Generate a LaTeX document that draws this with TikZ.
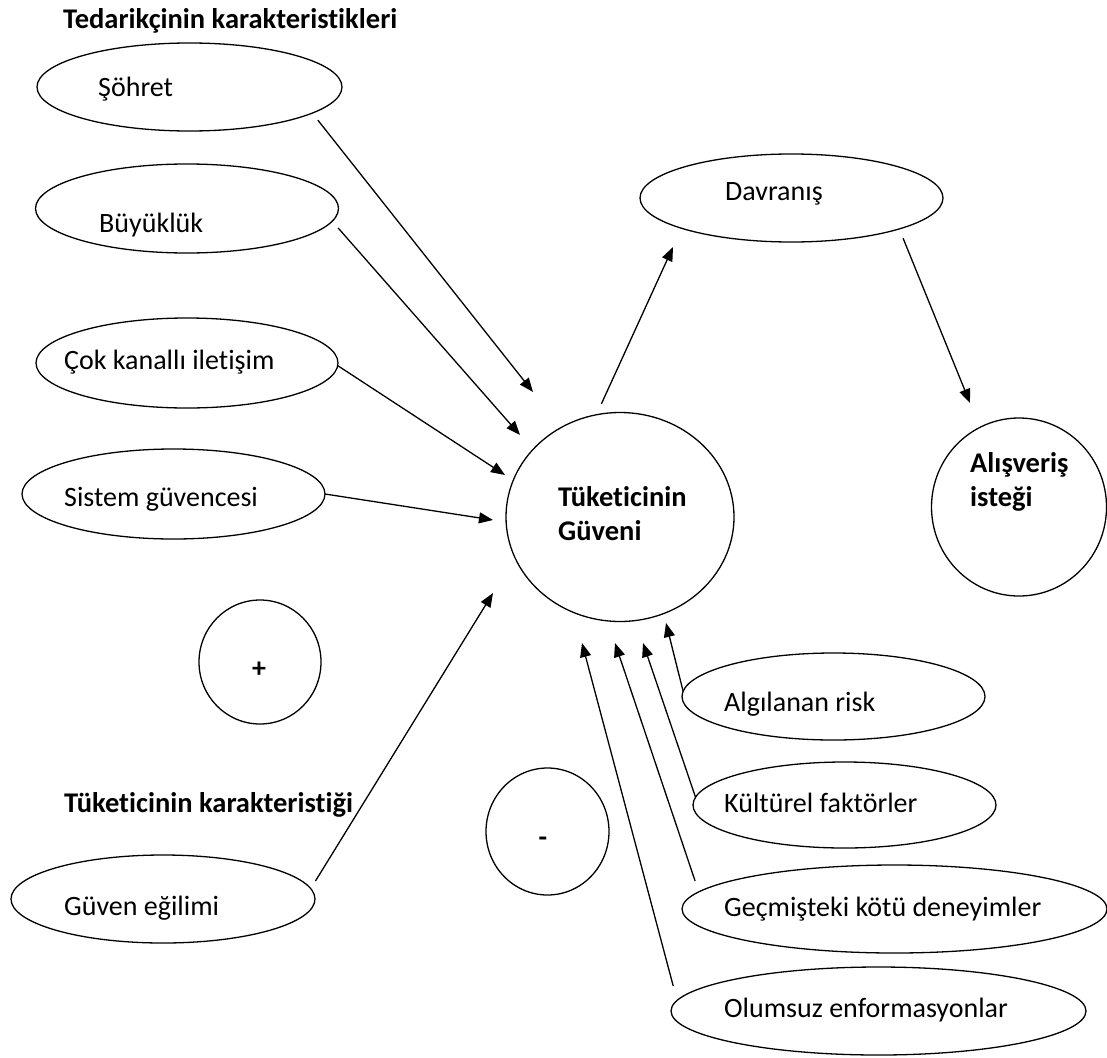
\documentclass[tikz,border=0pt]{standalone}
\usepackage{fontspec}
\setmainfont[Ligatures={NoCommon,NoRequired,NoContextual}]{Carlito}
\usetikzlibrary{arrows.meta,shapes.geometric}
\begin{document}
\begin{tikzpicture}[x=1pt,y=-1pt,
  oval/.style 2 args={ellipse, draw, line width=1.3pt, inner sep=0pt, outer sep=0pt, minimum width=#1, minimum height=#2},
  txt/.style={anchor=base west, inner sep=0pt, font=\fontsize{28}{34}\selectfont},
  btxt/.style={anchor=base west, inner sep=0pt, font=\fontsize{28.5}{34}\selectfont\bfseries},
  sgn/.style={anchor=base, inner sep=0pt, font=\fontsize{28}{34}\selectfont\bfseries},
  arr/.style={-{Triangle[length=14pt,width=11pt]}, line width=1.3pt}]
\fill[white] (0,0) rectangle (1107,1057);
\useasboundingbox (0,0) rectangle (1107,1057);

% ovals
\node[oval={305pt}{88pt}] (sohret) at (189.5,87) {};
\node[oval={303pt}{89pt}] (buyukluk) at (187,208.5) {};
\node[oval={302pt}{90pt}] (cok) at (187,363) {};
\node[oval={303pt}{90pt}] (sistem) at (173.5,494) {};
\node[oval={304pt}{88pt}] (guven) at (163,899) {};
\node[oval={303pt}{88pt}] (davranis) at (791.5,198) {};
\node[oval={228pt}{209pt}] (tuk) at (620,517) {};
\node[oval={175pt}{178pt}] (alis) at (1019,507) {};
\node[oval={122pt}{124pt}] (plus) at (260,662) {};
\node[oval={123pt}{127pt}] (minus) at (547.5,831.5) {};
\node[oval={303pt}{87pt}] (algi) at (833.5,696.5) {};
\node[oval={303pt}{86pt}] (kult) at (844.5,805) {};
\node[oval={425pt}{88pt}] (gecmis) at (894.5,909) {};
\node[oval={415pt}{88pt}] (olum) at (878.5,1011) {};

% texts
\node[btxt] (ttl1) at (63,29) {Tedarikçinin karakteristikleri};
\node[txt] (lsohret) at (98,96) {Şöhret};
\node[txt] (lbuyukluk) at (99,232) {Büyüklük};
\node[txt] (lcok) at (64,369) {Çok kanallı iletişim};
\node[txt] (lsistem) at (64,506) {Sistem güvencesi};
\node[sgn] (lplus) at (259,677) {+};
\node[btxt] (ttl2) at (64,812) {Tüketicinin karakteristiği};
\node[txt] (lguven) at (64,915) {Güven eğilimi};
\node[sgn] (lminus) at (543,846) {-};
\node[btxt] (ltuk1) at (558,506) {Tüketicinin};
\node[btxt] (ltuk2) at (558,540) {Güveni};
\node[txt] (ldavranis) at (725,200) {Davranış};
\node[btxt] (lalis1) at (970,472) {Alışveriş};
\node[btxt] (lalis2) at (970,506) {isteği};
\node[txt] (lalgi) at (724,711) {Algılanan risk};
\node[txt] (lkult) at (724,812) {Kültürel faktörler};
\node[txt] (lgecmis) at (724,916) {Geçmişteki kötü deneyimler};
\node[txt] (lolum) at (724,1017) {Olumsuz enformasyonlar};

% arrow tips
\coordinate (t1) at (533,392);
\coordinate (t2) at (520,435);
\coordinate (t3) at (505,475);
\coordinate (t4) at (493,520);
\coordinate (t5) at (493,593);
\coordinate (t6) at (673,247);
\coordinate (t7) at (970,403);
\coordinate (t8) at (666,623);
\coordinate (t9) at (643,643);
\coordinate (t10) at (615,643);
\coordinate (t11) at (582,643);

% connectors
\draw[arr, shorten <=9pt] (sohret.-12.8) -- (t1);
\draw[arr, shorten <=9pt] (buyukluk.-5.9) -- (t2);
\draw[arr] (cok.-1.5) -- (t3);
\draw[arr] (sistem.-0.4) -- (t4);
\draw[arr, shorten <=9pt] (guven.4.3) -- (t5);
\draw[arr, shorten <=12pt] (tuk.103.2) -- (t6);
\draw[arr, shorten <=10pt] (davranis.-16.7) -- (t7);
\draw[arr] (algi.178.3) -- (t8);
\draw[arr] (kult.177.4) -- (t9);
\draw[arr, shorten <=11.5pt] (gecmis.175.4) -- (t10);
\draw[arr, shorten <=15pt] (olum.177.3) -- (t11);
\end{tikzpicture}
\end{document}
